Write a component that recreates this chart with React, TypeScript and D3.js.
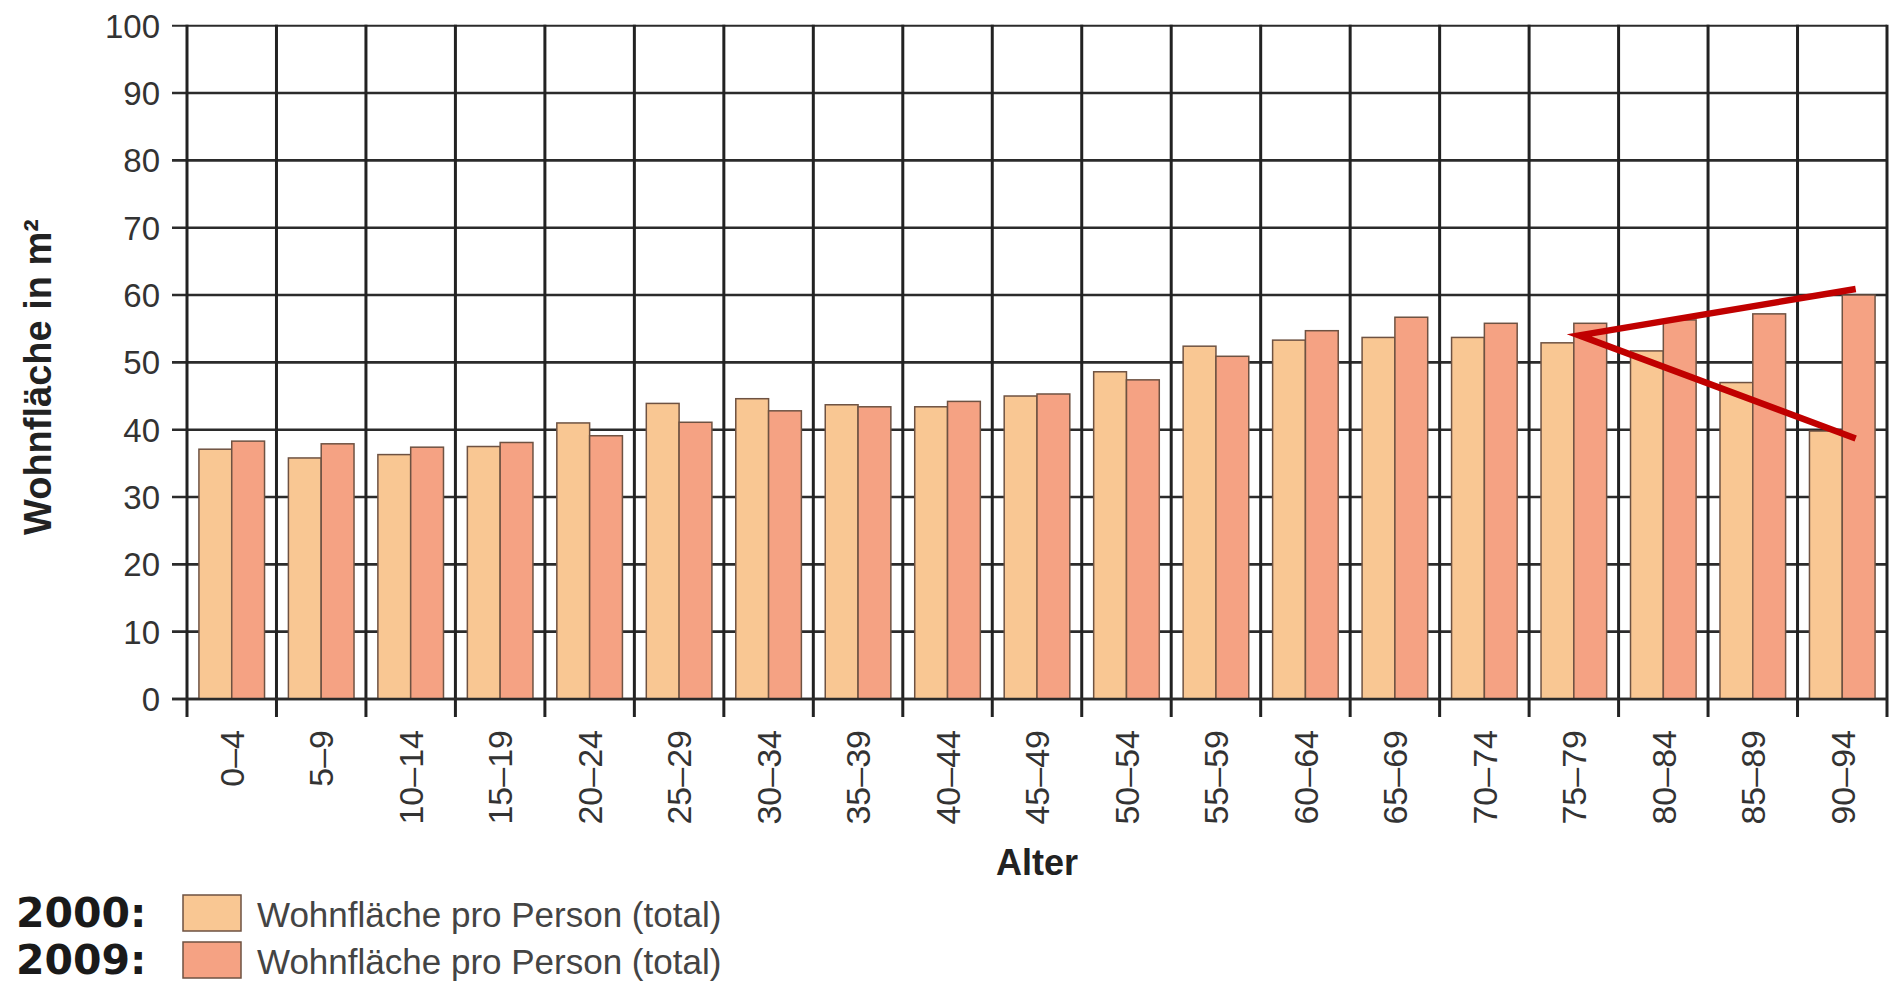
import React from "react";
import * as d3 from "d3";

const categories = ["0–4","5–9","10–14","15–19","20–24","25–29","30–34","35–39","40–44","45–49","50–54","55–59","60–64","65–69","70–74","75–79","80–84","85–89","90–94"];
const values2000 = [37.1,35.8,36.3,37.5,41.0,43.9,44.6,43.7,43.4,45.0,48.6,52.4,53.3,53.7,53.7,52.9,51.7,47.0,39.8];
const values2009 = [38.3,37.9,37.4,38.1,39.1,41.1,42.8,43.4,44.2,45.3,47.4,50.9,54.7,56.7,55.8,55.8,56.3,57.2,60.0];
const yTicks = [0,10,20,30,40,50,60,70,80,90,100];
const seriesKeys = ["2000","2009"];
const legendLabels = ["Wohnfläche pro Person (total)","Wohnfläche pro Person (total)"];
// annotation (red wedge): [category, fraction across category, value]
const annoCats = ["90–94","75–79","90–94"];
const annoFrac = [0.65,0.56,0.65];
const annoVals = [60.9,54.0,38.7];

const W = 1892, H = 983;
const left = 187, right = 1887, top = 25.7, bottom = 699;
const colors = ["#f9c793","#f5a283"];

export default function App() {
  const x0 = d3.scaleBand<string>().domain(categories).range([left, right]).paddingInner(0.2667).paddingOuter(0.13335);
  const x1 = d3.scaleBand<string>().domain(seriesKeys).range([0, x0.bandwidth()]).padding(0);
  const y = d3.scaleLinear().domain([0, 100]).range([bottom, top]);
  const step = x0.step();
  const catStart = (c: string) => (x0(c) as number) - step * x0.paddingInner() / 2;
  const boundaries = d3.range(categories.length + 1).map(i => left + i * step);
  const series = [values2000, values2009];
  const annoPts = annoCats.map((c, i) => [catStart(c) + annoFrac[i] * step, y(annoVals[i])]);
  const font = "'Liberation Sans', Arial, sans-serif";

  return (
    <svg width={W} height={H} style={{ position: "absolute", left: 0, top: 0, display: "block", background: "#fff" }} fontFamily={font}>
      {/* horizontal grid */}
      {yTicks.map(t => (
        <g key={"h" + t}>
          <line x1={left - 15} x2={right} y1={y(t)} y2={y(t)} stroke="#2b2b2b" strokeWidth={t === 100 ? 2 : 2.6} />
          <text x={160} y={y(t)} dy="0.36em" textAnchor="end" fontSize={33} fill="#333">{t}</text>
        </g>
      ))}
      {/* bars */}
      {categories.map((c, i) => (
        <g key={c}>
          {series.map((s, k) => (
            <rect key={k} x={(x0(c) as number) + (x1(seriesKeys[k]) as number)} y={y(s[i])} width={x1.bandwidth()} height={y(0) - y(s[i])}
              fill={colors[k]} stroke="#6e5242" strokeWidth={1.5} />
          ))}
        </g>
      ))}
      {/* vertical grid */}
      {boundaries.map((b, i) => (
        <line key={"v" + i} x1={b} x2={b} y1={top - 1} y2={bottom + 18} stroke="#222" strokeWidth={3} />
      ))}
      <line x1={left - 15} x2={right} y1={y(0)} y2={y(0)} stroke="#2b2b2b" strokeWidth={2.6} />
      {/* x labels */}
      {categories.map(c => {
        const cx = (x0(c) as number) + x0.bandwidth() / 2;
        return (
          <text key={"l" + c} transform={`translate(${cx},730) rotate(-90)`} dy="0.36em" textAnchor="end" fontSize={34} fill="#333">{c}</text>
        );
      })}
      {/* axis titles */}
      <text transform={`translate(51,377) rotate(-90)`} textAnchor="middle" fontSize={38} fontWeight="bold" fill="#222">Wohnfläche in m²</text>
      <text x={(left + right) / 2} y={875} textAnchor="middle" fontSize={36} fontWeight="bold" fill="#222">Alter</text>
      {/* annotation */}
      <polyline points={annoPts.map(p => p.join(",")).join(" ")} fill="none" stroke="#c00000" strokeWidth={6.5} strokeLinejoin="miter" strokeMiterlimit={10} />
      {/* legend */}
      {seriesKeys.map((k, i) => {
        const by = 927 + i * 47;
        return (
          <g key={"lg" + k}>
            <text x={16} y={by} fontFamily="'DejaVu Sans', sans-serif" fontWeight="bold" fontSize={41} fill="#1a1a1a">{k + ":"}</text>
            <rect x={183} y={by - 32} width={58} height={36} fill={colors[i]} stroke="#6e5242" strokeWidth={1.5} />
            <text x={257} y={by} fontSize={35} fill="#444">{legendLabels[i]}</text>
          </g>
        );
      })}
    </svg>
  );
}
